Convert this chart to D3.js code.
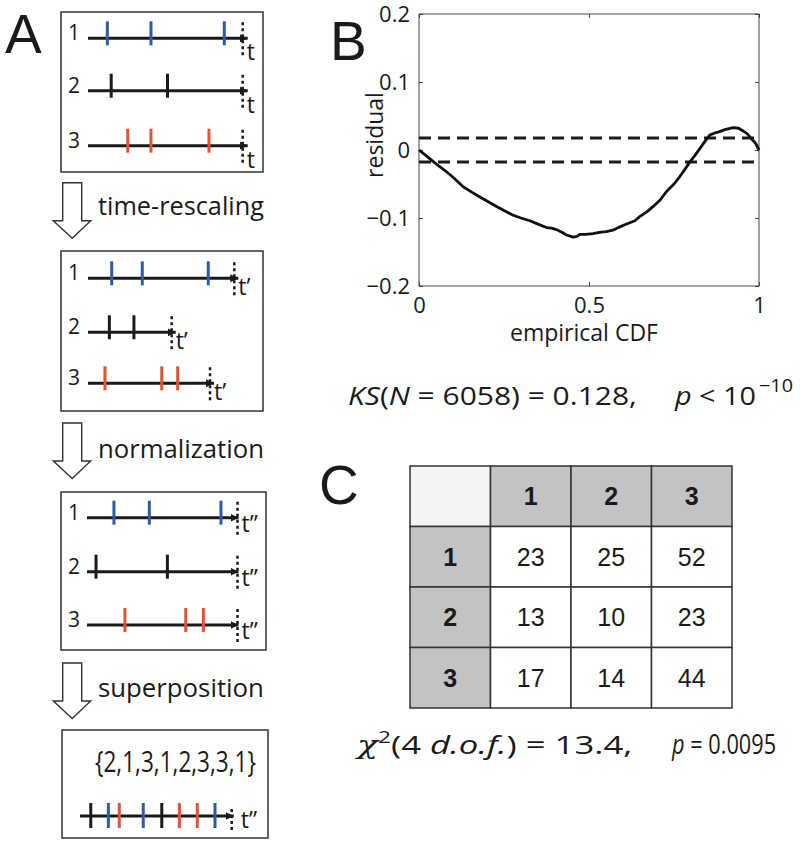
<!DOCTYPE html>
<html><head><meta charset="utf-8">
<script src="https://cdn.jsdelivr.net/npm/d3@7"></script>
<style>body{margin:0;background:#fff}</style>
</head><body><svg id="c" width="800" height="845"></svg>
<script>
// ---------- Panel A data ----------
const stageNames = ["time-rescaling", "normalization", "superposition"];
const neuronIds = ["1", "2", "3"];
const rawSpikes = [[0.125, 0.407, 0.881], [0.15, 0.514], [0.257, 0.407, 0.782]];
const rawEnds = [1, 1, 1];
const rescaledSpikes = [[0.162, 0.371, 0.822], [0.146, 0.314], [0.116, 0.504, 0.613]];
const rescaledEnds = [1, 0.572, 0.834];
const normSpikes = [[0.179, 0.414, 0.890], [0.060, 0.534], [0.252, 0.656, 0.773]];
const normEnds = [1, 1, 1];
const superSpikes = [0.071, 0.187, 0.259, 0.417, 0.539, 0.655, 0.773, 0.890];
const superIds = [2, 1, 3, 1, 2, 3, 3, 1];
const superLabel = "{2,1,3,1,2,3,3,1}";
const timeLabels = ["t", "t\u2019", "t\u201d"];
// ---------- Panel B data ----------
const cdfX = [0, 0.02, 0.042, 0.06, 0.081, 0.10, 0.13, 0.155, 0.179, 0.20, 0.228, 0.25, 0.277, 0.30, 0.326, 0.35, 0.375, 0.39, 0.404, 0.42, 0.434, 0.453, 0.465, 0.473, 0.49, 0.512, 0.53, 0.551, 0.57, 0.591, 0.605, 0.62, 0.635, 0.649, 0.67, 0.689, 0.71, 0.728, 0.75, 0.767, 0.78, 0.796, 0.81, 0.826, 0.84, 0.855, 0.87, 0.884, 0.90, 0.924, 0.94, 0.953, 0.965, 0.977, 0.99, 1.0];
const residY = [0, -0.008, -0.017, -0.024, -0.032, -0.040, -0.054, -0.062, -0.069, -0.075, -0.083, -0.089, -0.096, -0.100, -0.104, -0.109, -0.114, -0.115, -0.117, -0.121, -0.125, -0.128, -0.127, -0.124, -0.124, -0.123, -0.121, -0.120, -0.118, -0.113, -0.110, -0.107, -0.104, -0.098, -0.091, -0.083, -0.073, -0.061, -0.050, -0.039, -0.030, -0.018, -0.009, 0.002, 0.012, 0.022, 0.025, 0.027, 0.030, 0.033, 0.032, 0.028, 0.024, 0.017, 0.010, 0.0];
const ksBand = 0.0175;
const yTicks = [-0.2, -0.1, 0, 0.1, 0.2];
const xTicks = [0, 0.5, 1];
// ---------- Panel C data ----------
const tableRows = ["1", "2", "3"];
const tableCols = ["1", "2", "3"];
const tableValues = [[23, 25, 52], [13, 10, 23], [17, 14, 44]];

const svg = d3.select("#c");
const colors = {"1": "#2b5ca8", "2": "#1a1a1a", "3": "#e3532f"};
const FA = "'Open Sans', sans-serif";
const FH = "'Liberation Sans', Arial, sans-serif";
const INK = "#1a1a1a";

// text fitted horizontally to a target width (scaled group)
function fitText(x, y, width, size, parts) {
  const g = svg.append("g");
  const t = g.append("text").attr("x", 0).attr("y", 0).attr("font-family", FA).attr("font-size", size).attr("fill", INK);
  parts.forEach(p => {
    const s = t.append("tspan").text(p.t);
    if (p.i) s.attr("font-style", "italic");
    if (p.f) s.attr("font-family", p.f);
    if (p.s) s.attr("font-size", p.s);
    if (p.dy) s.attr("dy", p.dy);
  });
  const w = t.node().getBBox().width;
  g.attr("transform", `translate(${x},${y}) scale(${width / w},1)`);
  return g;
}

svg.append("defs").append("marker").attr("id", "ah").attr("viewBox", "0 0 10 10").attr("refX", 10).attr("refY", 5)
  .attr("markerUnits", "userSpaceOnUse").attr("markerWidth", 8).attr("markerHeight", 9).attr("orient", "auto")
  .append("path").attr("d", "M0,0 L10,5 L0,10 Z").attr("fill", INK);

// panel letters
svg.append("text").attr("x", 5).attr("y", 53).attr("font-family", FH).attr("font-size", 55).attr("fill", INK).text("A");
svg.append("text").attr("x", 330).attr("y", 60).attr("font-family", FH).attr("font-size", 55).attr("fill", INK).text("B");
svg.append("text").attr("x", 319).attr("y", 504).attr("font-family", FH).attr("font-size", 55).attr("fill", INK).text("C");

// ---------- Panel A ----------
const boxes = [
  {x0: 61, y0: 12, x1: 263, y1: 172, rows: [38.3, 90.7, 145.7], r0: 88, r1: 242.7, spikes: rawSpikes, ends: rawEnds, tl: 0, tip: 5, ldy: 22},
  {x0: 61, y0: 251, x1: 263, y1: 411, rows: [278.3, 332.3, 383.3], r0: 88, r1: 234.3, spikes: rescaledSpikes, ends: rescaledEnds, tl: 1, tip: 4, ldy: 17},
  {x0: 61, y0: 492, x1: 266, y1: 650, rows: [517.7, 571.7, 625], r0: 87, r1: 237.5, spikes: normSpikes, ends: normEnds, tl: 2, tip: 1, ldy: 14}
];

boxes.forEach(b => {
  const g = svg.append("g");
  g.append("rect").attr("x", b.x0).attr("y", b.y0).attr("width", b.x1 - b.x0).attr("height", b.y1 - b.y0)
    .attr("fill", "none").attr("stroke", "#333").attr("stroke-width", 1.5);
  const xs = d3.scaleLinear().domain([0, 1]).range([b.r0, b.r1]);
  neuronIds.forEach((id, i) => {
    const y = b.rows[i];
    const endX = xs(b.ends[i]);
    g.append("text").attr("x", 68).attr("y", y + 2).attr("font-family", FA).attr("font-size", 21).attr("fill", INK).text(id);
    g.append("line").attr("x1", b.r0).attr("x2", endX + b.tip).attr("y1", y).attr("y2", y)
      .attr("stroke", INK).attr("stroke-width", 3).attr("marker-end", "url(#ah)");
    g.selectAll(null).data(b.spikes[i]).enter().append("line")
      .attr("x1", d => xs(d)).attr("x2", d => xs(d)).attr("y1", y - 17).attr("y2", y + 7)
      .attr("stroke", colors[id]).attr("stroke-width", 3);
    g.append("line").attr("x1", endX).attr("x2", endX).attr("y1", y - 16).attr("y2", y + 17)
      .attr("stroke", INK).attr("stroke-width", 2.5).attr("stroke-dasharray", "3,3");
    g.append("text").attr("x", endX + 4).attr("y", y + b.ldy).attr("font-family", FA).attr("font-size", 23).attr("fill", INK).text(timeLabels[b.tl]);
  });
});

// hollow arrows + stage labels
const arrowTops = [182.7, 423, 663];
const labelBase = [215, 458, 697];
arrowTops.forEach((t, i) => {
  const p = [[62.7, t], [81.7, t], [81.7, t + 38], [90.7, t + 38], [72.2, t + 55.5], [53.3, t + 38], [62.7, t + 38]];
  svg.append("path").attr("d", d3.line()(p) + "Z").attr("fill", "#fff").attr("stroke", "#333").attr("stroke-width", 1.4);
  fitText(98, labelBase[i], 166, 26, [{t: stageNames[i]}]);
});

// box 4 superposition
{
  const g = svg.append("g");
  g.append("rect").attr("x", 62).attr("y", 730).attr("width", 206).attr("height", 108)
    .attr("fill", "none").attr("stroke", "#333").attr("stroke-width", 1.5);
  fitText(95, 772, 161, 30, [{t: superLabel}]);
  const xs = d3.scaleLinear().domain([0, 1]).range([80, 231.7]);
  const y = 816;
  g.append("line").attr("x1", xs(0)).attr("x2", xs(1) + 2).attr("y1", y).attr("y2", y)
    .attr("stroke", INK).attr("stroke-width", 3).attr("marker-end", "url(#ah)");
  g.selectAll(null).data(superSpikes).enter().append("line")
    .attr("x1", d => xs(d)).attr("x2", d => xs(d)).attr("y1", y - 13).attr("y2", y + 12)
    .attr("stroke", (d, i) => colors[String(superIds[i])]).attr("stroke-width", 3);
  g.append("line").attr("x1", xs(1)).attr("x2", xs(1)).attr("y1", y - 7).attr("y2", y + 16)
    .attr("stroke", INK).attr("stroke-width", 2.5).attr("stroke-dasharray", "3,3");
  g.append("text").attr("x", xs(1) + 9).attr("y", y + 12).attr("font-family", FA).attr("font-size", 23).attr("fill", INK).text(timeLabels[2]);
}

// ---------- Panel B ----------
{
  const L = 419, R = 759, T = 14, B = 286;
  const x = d3.scaleLinear().domain([0, 1]).range([L, R]);
  const y = d3.scaleLinear().domain([-0.2, 0.2]).range([B, T]);
  const g = svg.append("g");
  const fmtY = d => d === 0 ? "0" : d3.format(".1f")(d);
  const fmtX = d3.format("~g");
  const styleAx = sel => {
    sel.select(".domain").remove();
    sel.selectAll("line").attr("stroke", "#444");
    sel.selectAll("text").attr("font-family", FA).attr("font-size", 22).attr("fill", INK);
  };
  g.append("g").attr("transform", `translate(${L},0)`).call(d3.axisLeft(y).tickValues(yTicks).tickFormat(fmtY).tickSize(-4).tickPadding(9)).call(styleAx);
  g.append("g").attr("transform", `translate(${R},0)`).call(d3.axisRight(y).tickValues(yTicks).tickFormat("").tickSize(-4)).call(styleAx);
  g.append("g").attr("transform", `translate(0,${B})`).call(d3.axisBottom(x).tickValues(xTicks).tickFormat(fmtX).tickSize(-4).tickPadding(11)).call(styleAx);
  g.append("g").attr("transform", `translate(0,${T})`).call(d3.axisTop(x).tickValues(xTicks).tickFormat("").tickSize(-4)).call(styleAx);
  g.append("rect").attr("x", L).attr("y", T).attr("width", R - L).attr("height", B - T).attr("fill", "none").attr("stroke", "#444").attr("stroke-width", 1);
  [ksBand, -ksBand].forEach(v => {
    g.append("line").attr("x1", x(0)).attr("x2", x(1)).attr("y1", y(v)).attr("y2", y(v))
      .attr("stroke", INK).attr("stroke-width", 3).attr("stroke-dasharray", "12,7");
  });
  const pts = cdfX.map((d, i) => [d, residY[i]]);
  g.append("path").attr("d", d3.line().x(d => x(d[0])).y(d => y(d[1]))(pts))
    .attr("fill", "none").attr("stroke", "#111").attr("stroke-width", 2.8).attr("stroke-linejoin", "round");
  g.append("text").attr("x", 584).attr("y", 341).attr("text-anchor", "middle").attr("font-family", FA).attr("font-size", 23).attr("fill", INK).text("empirical CDF");
  g.append("text").attr("transform", "translate(383,135) rotate(-90)").attr("text-anchor", "middle").attr("font-family", FA).attr("font-size", 23).attr("fill", INK).text("residual");

  fitText(348, 405, 289, 26, [{t: "KS", i: 1}, {t: "("}, {t: "N", i: 1}, {t: " = 6058) = 0.128,"}]);
  fitText(675, 405, 82, 26, [{t: "p", i: 1}, {t: " < 10"}]);
  fitText(759, 392, 34, 18, [{t: "\u221210"}]);
}

// ---------- Panel C ----------
{
  const cols = ["", ...tableCols];
  const rows = ["", ...tableRows];
  const cx = d3.scaleBand().domain(cols.map((d, i) => i)).range([410, 732]);
  const cy = d3.scaleBand().domain(rows.map((d, i) => i)).range([466, 708]);
  const g = svg.append("g");
  const cells = [];
  rows.forEach((r, ri) => cols.forEach((c, ci) => {
    let txt = "", fill = "#fff", bold = false;
    if (ri === 0 && ci === 0) fill = "#f4f4f4";
    else if (ri === 0) { txt = c; fill = "#c3c3c3"; bold = true; }
    else if (ci === 0) { txt = r; fill = "#c3c3c3"; bold = true; }
    else txt = String(tableValues[ri - 1][ci - 1]);
    cells.push({ri, ci, txt, fill, bold});
  }));
  g.selectAll("rect").data(cells).enter().append("rect")
    .attr("x", d => cx(d.ci)).attr("y", d => cy(d.ri)).attr("width", cx.bandwidth()).attr("height", cy.bandwidth())
    .attr("fill", d => d.fill).attr("stroke", "#333").attr("stroke-width", 1.5);
  g.selectAll("text").data(cells).enter().append("text")
    .attr("x", d => cx(d.ci) + cx.bandwidth() / 2).attr("y", d => cy(d.ri) + cy.bandwidth() / 2).attr("dy", "0.36em")
    .attr("text-anchor", "middle").attr("font-family", FH).attr("font-size", 25)
    .attr("font-weight", d => d.bold ? "bold" : "normal").attr("fill", INK).text(d => d.txt);

  fitText(357, 754, 278, 26, [{t: "\u03c7", i: 1, f: "'DejaVu Serif', serif"}, {t: "2", s: 17, dy: -11}, {t: "(4 ", dy: 11}, {t: "d.o.f.", i: 1}, {t: ") = 13.4,"}]);
  fitText(672, 754, 105, 27, [{t: "p", i: 1}, {t: " = 0.0095"}]);
}
</script></body></html>
